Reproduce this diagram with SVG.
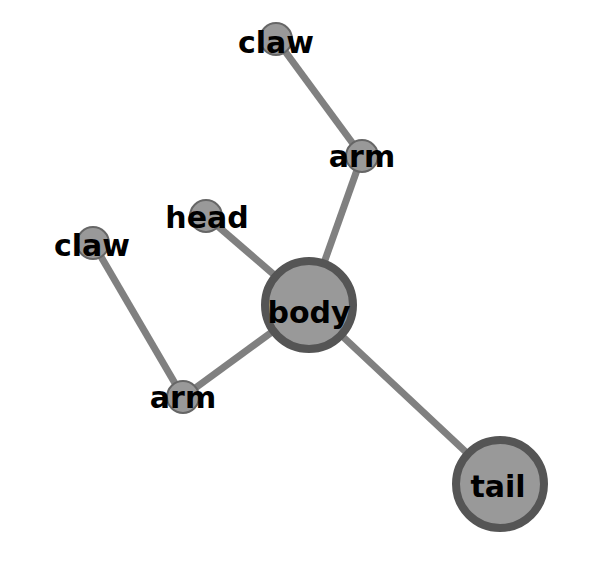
<svg xmlns="http://www.w3.org/2000/svg" width="611" height="573" viewBox="0 0 611 573">
<style>
.e{stroke:#808080;stroke-width:7;fill:none}
.big{fill:#999999;stroke:#555555;stroke-width:8}
.small{fill:#999999;stroke:#666666;stroke-width:2}
.t{font-family:"DejaVu Sans",sans-serif;font-weight:bold;font-size:30px;fill:#000;text-anchor:middle}
</style>
<rect width="611" height="573" fill="#ffffff"/>
<g id="edges">
<line class="e" x1="309" y1="305" x2="362" y2="156"/>
<line class="e" x1="309" y1="305" x2="206" y2="216"/>
<line class="e" x1="309" y1="305" x2="183" y2="397"/>
<line class="e" x1="309" y1="305" x2="500" y2="484"/>
<line class="e" x1="362" y1="156" x2="276" y2="39"/>
<line class="e" x1="183" y1="397" x2="93" y2="243"/>
</g>
<g id="body"><circle class="big" cx="309" cy="305" r="44"/><text class="t" x="309" y="323">body</text></g>
<g id="tail"><circle class="big" cx="500" cy="484" r="44"/><text class="t" x="498" y="497">tail</text></g>
<g id="claw1"><circle class="small" cx="276" cy="39" r="16"/><text class="t" x="276" y="53">claw</text></g>
<g id="arm1"><circle class="small" cx="362" cy="156" r="16"/><text class="t" x="362" y="167">arm</text></g>
<g id="head"><circle class="small" cx="206" cy="216" r="16"/><text class="t" x="207" y="228">head</text></g>
<g id="claw2"><circle class="small" cx="93" cy="243" r="16"/><text class="t" x="92" y="256">claw</text></g>
<g id="arm2"><circle class="small" cx="183" cy="397" r="16"/><text class="t" x="183" y="408">arm</text></g>
</svg>
